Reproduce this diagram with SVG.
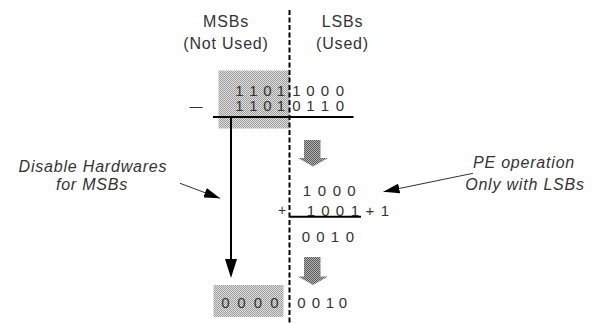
<svg xmlns="http://www.w3.org/2000/svg" width="595" height="323" viewBox="0 0 595 323">
  <defs>
    <!-- fine halftone fills -->
    <pattern id="dotLight" width="2" height="2" patternUnits="userSpaceOnUse">
      <rect width="2" height="2" fill="#e0e0e0"/>
      <rect width="1" height="1" fill="#9c9c9c"/>
      <rect x="1" y="1" width="1" height="1" fill="#9c9c9c"/>
    </pattern>
    <pattern id="dotDark" width="2" height="2" patternUnits="userSpaceOnUse">
      <rect width="2" height="2" fill="#b4b4b4"/>
      <rect width="1" height="1" fill="#5a5a5a"/>
      <rect x="1" y="1" width="1" height="1" fill="#5a5a5a"/>
    </pattern>
    <marker id="head" viewBox="0 0 16 10" refX="16" refY="5" markerWidth="16" markerHeight="10" markerUnits="userSpaceOnUse" orient="auto">
      <path d="M0,0 L16,5 L0,10 z" fill="#000"/>
    </marker>
  </defs>
  <style>
    .hdr { font-family: "Liberation Sans", Arial, sans-serif; font-size: 16px; letter-spacing: 0.8px; fill: #333; text-anchor: middle; }
    .note { font-family: "Liberation Sans", Arial, sans-serif; font-size: 16px; font-style: italic; letter-spacing: 0.8px; fill: #333; text-anchor: middle; }
    .dig { font-family: "Liberation Sans", Arial, sans-serif; font-size: 15px; fill: #333; text-anchor: middle; }
    .rule { stroke: #000; stroke-width: 2; fill: none; }
    .thin { stroke: #333; stroke-width: 1; fill: none; }
  </style>

  <rect width="595" height="323" fill="#fff"/>

  <!-- shaded MSB fields -->
  <g id="msb-shade">
    <rect x="218.5" y="70.5" width="71" height="58" fill="url(#dotLight)"/>
    <rect x="213.5" y="285" width="70" height="32" fill="url(#dotLight)"/>
  </g>

  <!-- column divider -->
  <line x1="289.5" y1="10" x2="289.5" y2="323" stroke="#000" stroke-width="2" stroke-dasharray="5,2.5"/>

  <g id="headers">
    <text class="hdr" x="226" y="27">MSBs</text>
    <text class="hdr" x="226" y="48.5">(Not Used)</text>
    <text class="hdr" x="342.5" y="27">LSBs</text>
    <text class="hdr" x="342.5" y="48.5">(Used)</text>
  </g>

  <!-- subtraction -->
  <g id="subtraction">
    <text class="dig" x="239.5 253.5 267.5 281 296.5 310.5 325 340" y="95.5">11011000</text>
    <text class="dig" x="239.5 253.5 267.5 281 296.5 310.5 325 340" y="111">11010110</text>
    <text class="dig" x="196" y="110.5" style="font-size:13px">—</text>
    <line class="rule" x1="213" y1="117" x2="353.5" y2="117"/>
  </g>

  <!-- LSB addition -->
  <g id="lsb-add">
    <text class="dig" x="307 322 337 351.5" y="196">1000</text>
    <text class="dig" x="282" y="215" style="font-size:14px">+</text>
    <text class="dig" x="311 325.5 340 355" y="215.5">1001</text>
    <text class="dig" x="370 385" y="215.5">+1</text>
    <line class="rule" x1="290" y1="216.8" x2="361" y2="216.8"/>
    <text class="dig" x="306 320.5 335 350" y="242">0010</text>
  </g>

  <g id="result">
    <text class="dig" x="225.5 241.5 258 274.5" y="308">0000</text>
    <text class="dig" x="301.5 316 330 343" y="308">0010</text>
  </g>

  <g id="connectors">
    <!-- MSB pass-through -->
    <line class="rule" x1="231" y1="117" x2="231" y2="262"/>
    <polygon points="225,259 237,259 231,278" fill="#000"/>
    <!-- LSB flow -->
    <polygon points="304,140 320.5,140 320.5,158 328,158 313,166.5 298,158 304,158" fill="url(#dotDark)"/>
    <polygon points="304,257 320.5,257 320.5,276.5 328,276.5 313,285 298,276.5 304,276.5" fill="url(#dotDark)"/>
    <!-- callout pointers -->
    <line class="thin" x1="180" y1="183.3" x2="220" y2="198.3" marker-end="url(#head)"/>
    <line class="thin" x1="473" y1="173.3" x2="383.5" y2="191.7" marker-end="url(#head)"/>
  </g>

  <g id="notes">
    <text class="note" x="93" y="171.5">Disable Hardwares</text>
    <text class="note" x="92" y="190">for MSBs</text>
    <text class="note" x="524" y="168">PE operation</text>
    <text class="note" x="525" y="189.5">Only with LSBs</text>
  </g>
</svg>
